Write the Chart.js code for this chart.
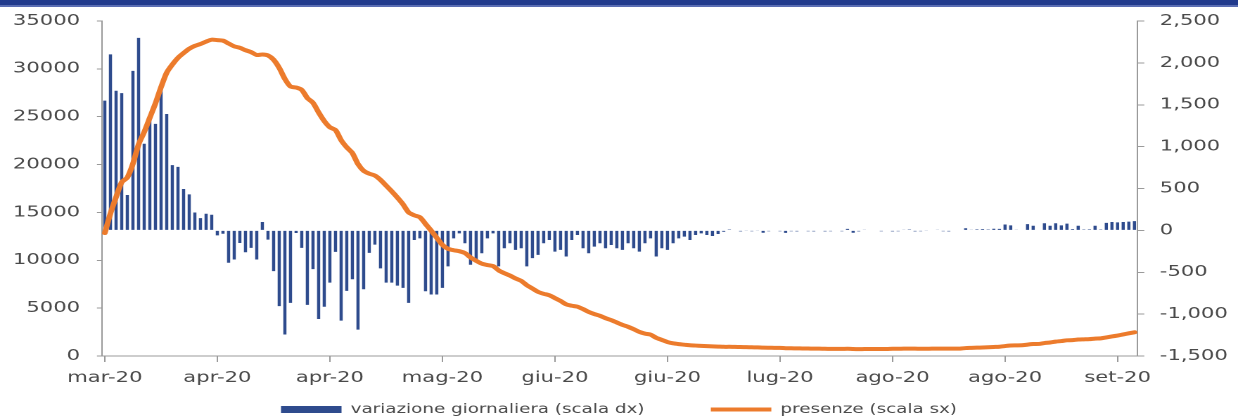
<!DOCTYPE html>
<html>
<head>
<meta charset="utf-8">
<script src="https://cdn.jsdelivr.net/npm/chart.js@4.4.1/dist/chart.umd.min.js"></script>
<style>
  html, body { margin: 0; padding: 0; background: #ffffff; overflow: hidden; }
  body { width: 1238px; height: 420px; position: relative; }
  /* the chart is laid out narrow and widened, like the wide lettering of the original exhibit */
  #wrap { position: absolute; left: 0; top: 0; width: 880px; height: 426px;
          transform: scaleX(1.406818); transform-origin: 0 0; }
  #band { position: absolute; left: 0; top: 0; width: 1238px; height: 5px;
          background: #213a8c; border-bottom: 2px solid #5a6db3; }
</style>
</head>
<body>
<div id="wrap"><canvas id="chart" width="880" height="426"></canvas></div>
<div id="band"></div>
<script>
// Daily change in hospital presences (right scale), one value per day from 16 March 2020
const variazione = [
  1549, 2101, 1667, 1639, 423, 1904, 2299, 1034, 1312, 1271,
  1686, 1390, 779, 758, 494, 430, 213, 146, 198, 186,
  -60, -40, -387, -348, -150, -261, -209, -348, 100, -111,
  -486, -905, -1244, -865, -32, -209, -889, -462, -1058, -912,
  -624, -257, -1078, -723, -584, -1185, -703, -269, -170, -454,
  -624, -624, -660, -687, -865, -115, -95, -727, -766, -766,
  -687, -430, -95, -36, -154, -411, -352, -273, -95, -36,
  -430, -213, -154, -233, -213, -430, -332, -292, -154, -115,
  -253, -233, -312, -115, -55, -213, -273, -194, -154, -213,
  -174, -213, -233, -154, -213, -253, -154, -95, -312, -213,
  -233, -154, -95, -75, -115, -55, -36, -55, -67, -43,
  -16, 10, 0, -12, -8, -10, -8, -28, -10, 0,
  -10, -30, -10, -12, 0, -10, -12, 0, -12, -10,
  0, -10, 18, -28, -12, 8, 0, 0, -10, 6,
  -12, -10, 5, 10, -12, -10, -8, 0, 8, -10,
  -12, 0, 0, 25, 8, 12, 15, 10, 20, 18,
  70, 60, 8, 0, 75, 55, 0, 85, 55, 85,
  60, 80, 15, 55, 10, 12, 55, 10, 90, 100,
  95, 100, 105, 110
];

// Hospital presences (left scale), same days
const presenze = [
  12850, 14900, 16600, 18150, 18650, 20100, 22100, 23400, 24900, 26400,
  28100, 29600, 30450, 31150, 31650, 32100, 32400, 32600, 32850, 33050,
  33000, 32950, 32650, 32350, 32200, 31950, 31750, 31450, 31500, 31400,
  30950, 30100, 28950, 28150, 28050, 27800, 26950, 26450, 25450, 24550,
  23900, 23600, 22550, 21800, 21200, 20050, 19350, 19050, 18850, 18400,
  17800, 17200, 16550, 15850, 15000, 14700, 14500, 13800, 13100, 12350,
  11600, 11200, 11050, 10950, 10750, 10300, 9950, 9650, 9500, 9400,
  8950, 8650, 8400, 8100, 7850, 7400, 7050, 6700, 6500, 6350,
  6050, 5750, 5400, 5250, 5150, 4900, 4600, 4380, 4200, 3950,
  3750, 3500, 3250, 3050, 2800, 2520, 2340, 2230, 1900, 1680,
  1460, 1320, 1240, 1180, 1120, 1090, 1060, 1030, 1000, 980,
  960, 960, 950, 940, 925, 910, 900, 870, 860, 855,
  845, 815, 805, 795, 790, 780, 770, 765, 755, 745,
  745, 740, 755, 730, 720, 725, 725, 730, 725, 730,
  760, 760, 765, 770, 765, 760, 760, 765, 775, 770,
  765, 770, 775, 830, 850, 870, 890, 910, 940, 970,
  1040, 1100, 1110, 1120, 1190, 1250, 1260, 1350, 1410, 1500,
  1560, 1640, 1660, 1720, 1740, 1760, 1820, 1840, 1940, 2040,
  2140, 2250, 2370, 2480
];

// One label every 20 days
const tickLabels = ['mar-20', 'apr-20', 'apr-20', 'mag-20', 'giu-20',
                    'giu-20', 'lug-20', 'ago-20', 'ago-20', 'set-20'];
const tickStep = 20;

const categories = [];
for (let i = 0; i < presenze.length; i++) {
  const d = new Date(2020, 2, 16 + i);
  categories.push(d.getFullYear() + '-' + String(d.getMonth() + 1).padStart(2, '0') + '-' +
                  String(d.getDate()).padStart(2, '0'));
}

const FONT = 'DejaVu Sans, sans-serif';
const TEXT = '#4a4a4a';
const AXIS = '#9a9a9a';
const BAR = '#2e4b8d';
const LINE = '#ec7b2c';

const withComma = v => (v < 0 ? '-' : '') + Math.abs(v).toString().replace(/\B(?=(\d{3})+(?!\d))/g, ',');

new Chart(document.getElementById('chart'), {
  data: {
    labels: categories,
    datasets: [
      {
        type: 'bar',
        label: 'variazione giornaliera (scala dx)',
        data: variazione,
        yAxisID: 'y1',
        backgroundColor: BAR,
        borderWidth: 0,
        barPercentage: 0.56,
        categoryPercentage: 1.0,
        order: 2
      },
      {
        type: 'line',
        label: 'presenze (scala sx)',
        data: presenze,
        yAxisID: 'y',
        borderColor: LINE,
        backgroundColor: LINE,
        borderWidth: 4,
        pointRadius: 0,
        tension: 0.25,
        borderCapStyle: 'round',
        borderJoinStyle: 'round',
        fill: false,
        order: 1
      }
    ]
  },
  options: {
    responsive: false,
    devicePixelRatio: 2,
    animation: false,
    layout: { padding: { top: 17.5, left: 0, right: 0, bottom: 0 } },
    plugins: {
      tooltip: { enabled: false },
      legend: {
        position: 'bottom',
        align: 'center',
        labels: {
          font: { family: FONT, size: 13 },
          color: TEXT,
          padding: 10,
          usePointStyle: true,
          pointStyleWidth: 43,
          boxHeight: 7,
          sort: (a, b) => a.datasetIndex - b.datasetIndex,
          generateLabels: chart => {
            const items = Chart.defaults.plugins.legend.labels.generateLabels(chart);
            items.forEach(it => {
              it.pointStyle = it.datasetIndex === 0 ? 'rect' : 'line';
              if (it.datasetIndex === 0) {
                it.lineWidth = 0;
                it.strokeStyle = BAR;
                // wider spacing before the second entry
                it.text = it.text + '\u00a0'.repeat(9);
              }
            });
            return items;
          }
        }
      }
    },
    scales: {
      x: {
        offset: true,
        grid: { display: true, drawOnChartArea: false, drawTicks: true, tickLength: 6,
                color: AXIS, offset: false },
        border: { display: true, color: AXIS, width: 1 },
        ticks: {
          autoSkip: false, maxRotation: 0, minRotation: 0, padding: 7,
          color: TEXT, font: { family: FONT, size: 15 },
          callback: (value, index) => tickLabels[index]
        },
        afterBuildTicks: scale => {
          scale.ticks = scale.ticks.filter(t => t.value % tickStep === 0);
        },
        afterFit: scale => { scale.height = 37; }
      },
      y: {
        position: 'left',
        min: 0, max: 35000,
        grid: { display: true, drawOnChartArea: false, drawTicks: true, tickLength: 3.6, color: AXIS },
        border: { display: true, color: AXIS, width: 1 },
        ticks: { stepSize: 5000, padding: 12, color: TEXT, font: { family: FONT, size: 15 },
                 callback: v => String(v) },
        afterFit: scale => { scale.width = 72.5; }
      },
      y1: {
        position: 'right',
        min: -1500, max: 2500,
        grid: { display: true, drawOnChartArea: false, drawTicks: true, tickLength: 5, color: AXIS },
        border: { display: true, color: AXIS, width: 1 },
        ticks: { stepSize: 500, padding: 11, color: TEXT, font: { family: FONT, size: 15 },
                 callback: v => withComma(v) },
        afterFit: scale => { scale.width = 71.6; }
      }
    }
  }
});
</script>
</body>
</html>
